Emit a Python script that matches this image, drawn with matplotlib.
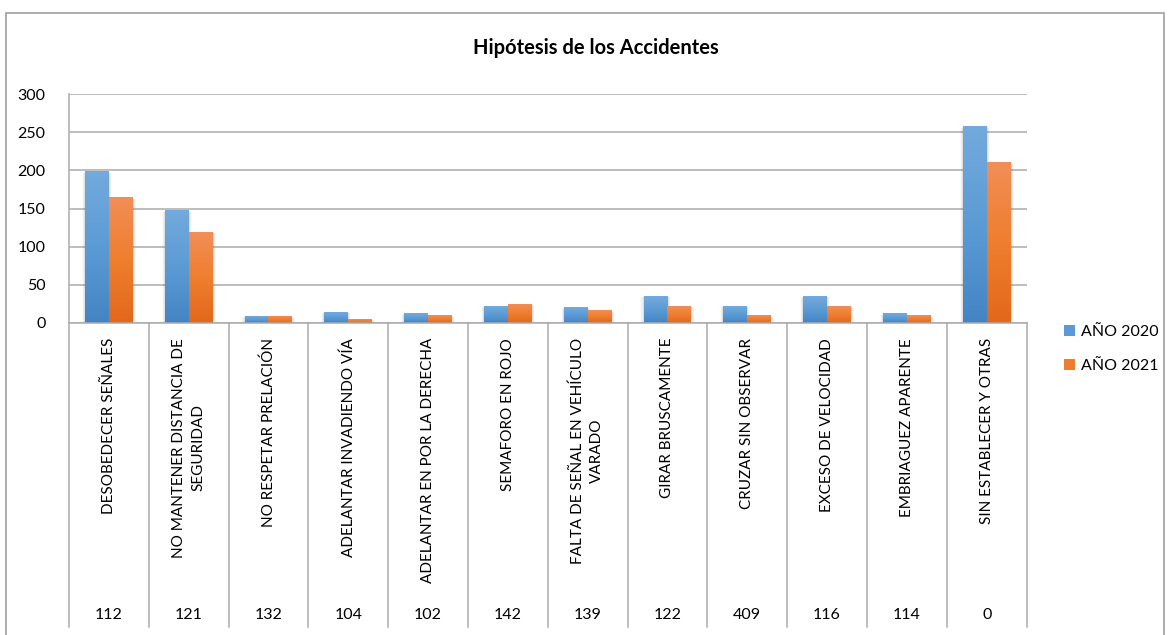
import matplotlib
matplotlib.use("Agg")
import matplotlib.pyplot as plt
import matplotlib.transforms as mtransforms
from matplotlib.colors import LinearSegmentedColormap
from matplotlib.patches import Patch, Rectangle
import numpy as np

plt.rcParams['font.family'] = ['Lato', 'DejaVu Sans']

title = "Hipótesis de los Accidentes"
categories = [
    "DESOBEDECER SEÑALES",
    "NO MANTENER DISTANCIA DE\nSEGURIDAD",
    "NO RESPETAR PRELACIÓN",
    "ADELANTAR INVADIENDO VÍA",
    "ADELANTAR EN POR LA DERECHA",
    "SEMAFORO EN ROJO",
    "FALTA DE SEÑAL EN VEHÍCULO\nVARADO",
    "GIRAR BRUSCAMENTE",
    "CRUZAR SIN OBSERVAR",
    "EXCESO DE VELOCIDAD",
    "EMBRIAGUEZ APARENTE",
    "SIN ESTABLECER Y OTRAS",
]
series_names = ["AÑO 2020", "AÑO 2021"]
anio_2020 = [198, 147, 9, 14, 12, 22, 20, 35, 22, 35, 12, 257]
anio_2021 = [164, 119, 8, 5, 10, 24, 16, 22, 10, 22, 10, 210]
table_values = [112, 121, 132, 104, 102, 142, 139, 122, 409, 116, 114, 0]
yticks = [0, 50, 100, 150, 200, 250, 300]

W, H = 1170, 635
fig = plt.figure(figsize=(W / 100, H / 100), dpi=100)
fig.patch.set_facecolor("white")

# outer chart frame
fig.add_artist(Rectangle((6 / W, -0.05), 1158 / W, 1 - 13 / H + 0.05,
                         transform=fig.transFigure, fill=False,
                         edgecolor="#A0A0A0", lw=1.2))

left, right, top, bottom = 69, 1026.6, 94, 323
ax = fig.add_axes([left / W, 1 - bottom / H, (right - left) / W, (bottom - top) / H])

x = np.arange(len(categories))
bw = 0.30
blue_cmap = LinearSegmentedColormap.from_list("b", ["#4584C4", "#5B9BD5", "#74AADD"])
orange_cmap = LinearSegmentedColormap.from_list("o", ["#E2681A", "#EF7E2F", "#F28E57"])

bars1 = ax.bar(x - bw / 2, anio_2020, bw, color="#5B9BD5", zorder=3)
bars2 = ax.bar(x + bw / 2, anio_2021, bw, color="#ED7D31", zorder=3)

grad = np.linspace(0, 1, 256).reshape(-1, 1)
for bars, cm in ((bars1, blue_cmap), (bars2, orange_cmap)):
    for p in bars:
        bx, by, bwid, bh = p.get_x(), p.get_y(), p.get_width(), p.get_height()
        # soft shadow on the sides
        for k, a in enumerate([0.07, 0.04, 0.02]):
            off = 0.013 * (k + 1)
            ax.add_patch(Rectangle((bx - off, by), bwid + 2 * off, max(bh - 0.5 * (k + 1), 0),
                                   facecolor="#000000", alpha=a, lw=0, zorder=2))
        ax.imshow(grad, extent=[bx, bx + bwid, by, by + bh], origin="lower",
                  aspect="auto", cmap=cm, zorder=4, interpolation="bilinear")

ax.set_xlim(-0.5, len(categories) - 0.5)
ax.set_ylim(0, 300)
ax.set_yticks(yticks)
ax.set_yticklabels([str(v) for v in yticks], fontsize=11.5, color="#000000")
ax.tick_params(axis="y", length=0, pad=17)
ax.set_xticks([])
ax.grid(axis="y", color="#ABABAB", lw=1.1, zorder=0)
for s in ["top", "right"]:
    ax.spines[s].set_visible(False)
ax.spines["left"].set_color("#ABABAB")
ax.spines["bottom"].set_color("#ABABAB")
ax.spines["left"].set_linewidth(1.1)
ax.spines["bottom"].set_linewidth(1.1)
ax.spines["bottom"].set_zorder(5)

# table below axis
tr = mtransforms.blended_transform_factory(ax.transData, fig.transFigure)
for b in np.arange(len(categories) + 1) - 0.5:
    ax.plot([b, b], [1 - bottom / H, 1 - 627 / H], transform=tr, color="#ABABAB",
            lw=1.1, clip_on=False)
for i, (c, v) in enumerate(zip(categories, table_values)):
    ax.text(i, 1 - 338 / H, c, transform=tr, rotation=90, ha="center", va="top",
            multialignment="center", fontsize=11, linespacing=1.45, color="#000000")
    ax.text(i, 1 - 615 / H, str(v), transform=tr, ha="center", va="center",
            fontsize=11.5, color="#000000")

fig.text(596 / W, 1 - 48 / H, title, ha="center", va="center",
         fontsize=14.5, fontweight="bold")

handles = [Patch(facecolor="#5B9BD5", edgecolor="none"),
           Patch(facecolor="#ED7D31", edgecolor="none")]
fig.legend(handles, series_names, loc="upper left",
           bbox_to_anchor=(1064 / W, 1 - 325 / H), frameon=False,
           fontsize=11.5, handlelength=0.7, handleheight=0.7,
           handletextpad=0.35, labelspacing=1.25, borderpad=0, borderaxespad=0)

fig.savefig("out.png", dpi=100, facecolor="white")
